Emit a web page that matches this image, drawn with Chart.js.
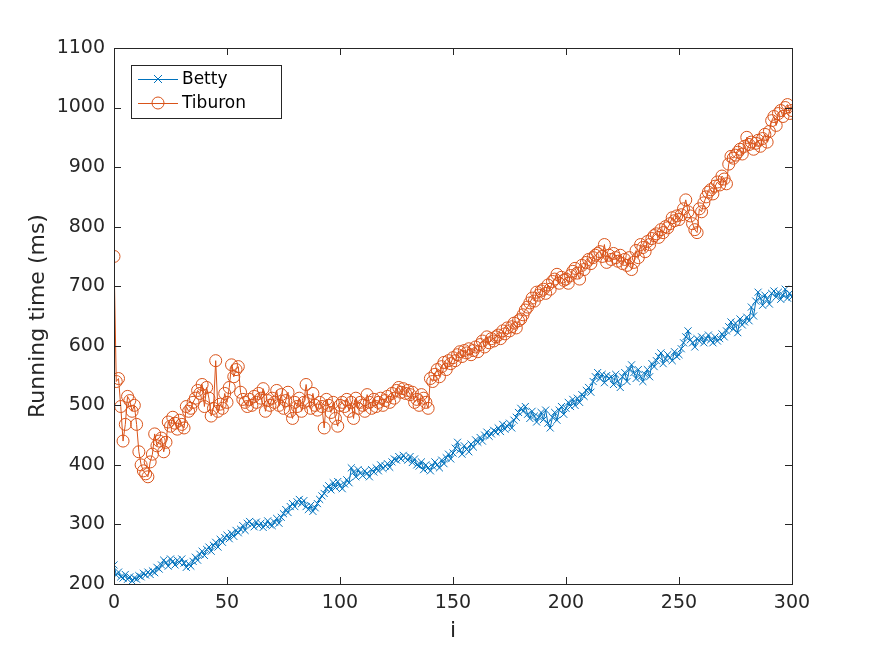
<!DOCTYPE html>
<html>
<head>
<meta charset="utf-8">
<script src="https://cdn.jsdelivr.net/npm/chart.js@4.4.1/dist/chart.umd.min.js"></script>
<style>
  html, body { margin: 0; padding: 0; background: #fff; }
  #wrap { width: 875px; height: 656px; }
</style>
</head>
<body>
<div id="wrap"><canvas id="chart" width="875" height="656"></canvas></div>
<script>
// running times per iteration i = 0..300
const bettyTimes = [
  232, 215, 220, 212, 210, 216, 208, 212, 205, 210,
  208, 214, 212, 218, 215, 220, 216, 222, 219, 228,
  225, 232, 240, 236, 230, 242, 238, 232, 240, 236,
  242, 235, 228, 234, 230, 238, 245, 240, 250, 255,
  248, 258, 262, 255, 265, 270, 262, 275, 270, 278,
  282, 276, 285, 280, 290, 286, 292, 298, 290, 302,
  305, 300, 296, 304, 298, 302, 295, 300, 306, 300,
  298, 304, 310, 302, 312, 318, 325, 320, 330, 335,
  330, 338, 342, 335, 340, 330, 325, 332, 322, 328,
  335, 342, 348, 352, 360, 365, 358, 370, 362, 372,
  365, 360, 368, 375, 370, 395, 388, 380, 392, 386,
  382, 390, 386, 380, 392, 388, 395, 390, 400, 394,
  398, 402, 396, 405, 410, 408, 414, 410, 416, 412,
  408, 414, 404, 410, 400, 398, 405, 392, 400, 395,
  390, 398, 405, 400, 395, 408, 402, 412, 418, 410,
  420, 428, 438, 425, 418, 432, 426, 422, 435, 430,
  442, 438, 446, 440, 450, 455, 448, 452, 458, 455,
  462, 456, 468, 460, 465, 470, 462, 475, 480, 488,
  495, 490, 498, 485, 478, 490, 482, 472, 480, 488,
  476, 492, 470, 462, 480, 488, 475, 492, 498, 485,
  495, 505, 498, 510, 500, 512, 505, 518, 515, 525,
  530, 522, 540, 548, 555, 545, 552, 538, 550, 545,
  548, 535, 552, 540, 530, 548, 555, 540, 560, 568,
  555, 545, 560, 548, 540, 552, 560, 548, 570, 565,
  575, 582, 588, 570, 578, 585, 580, 575, 590, 582,
  585, 595, 605, 615, 625, 610, 605, 598, 612, 608,
  615, 605, 612, 618, 610, 605, 615, 608, 612, 620,
  615, 625, 632, 640, 628, 638, 622, 645, 635, 640,
  648, 642, 665, 650, 675, 690, 680, 668, 685, 678,
  670, 688, 692, 682, 690, 678, 685, 695, 680, 688,
  682
];

const tiburonTimes = [
  750, 540, 545, 498, 440, 468, 515, 508, 490, 500,
  468, 422, 400, 390, 385, 380, 405, 418, 452, 432,
  440, 445, 422, 438, 472, 465, 480, 470, 460, 475,
  468, 462, 498, 490, 495, 505, 512, 525, 520, 535,
  498, 530, 512, 482, 495, 575, 490, 502, 495, 520,
  505, 530, 568, 548, 560, 565, 522, 510, 505, 498,
  510, 500, 515, 505, 520, 512, 528, 490, 508, 500,
  512, 505, 525, 500, 518, 495, 508, 522, 490, 478,
  505, 498, 512, 490, 505, 535, 508, 495, 520, 500,
  492, 505, 498, 462, 510, 500, 488, 505, 478, 465,
  500, 505, 498, 510, 490, 505, 478, 512, 495, 505,
  500, 490, 518, 505, 495, 510, 498, 505, 512, 500,
  508, 515, 505, 520, 512, 525, 530, 522, 528, 520,
  525, 518, 522, 505, 510, 500, 518, 512, 505, 495,
  545, 540, 552, 560, 548, 565, 572, 560, 575, 570,
  580, 575, 585, 590, 582, 592, 588, 595, 585, 592,
  598, 590, 602, 608, 598, 615, 605, 612, 608, 615,
  618, 612, 625, 620, 630, 625, 632, 638, 630, 642,
  645, 652, 660, 665, 672, 680, 675, 690, 685, 692,
  695, 688, 702, 695, 708, 712, 720, 705, 715, 710,
  712, 705, 718, 725, 730, 722, 712, 735, 728, 740,
  745, 738, 748, 752, 755, 758, 750, 770, 740, 752,
  745, 755, 748, 742, 752, 738, 745, 735, 748, 728,
  740, 760, 748, 770, 765, 758, 775, 770, 780, 785,
  788, 782, 795, 790, 800, 798, 805, 815, 810, 818,
  812, 820, 830, 845, 825, 818, 805, 795, 790, 830,
  825, 840, 850, 858, 862, 855, 868, 875, 870, 885,
  880, 872, 905, 918, 915, 920, 925, 930, 922, 935,
  950, 938, 942, 930, 940, 945, 935, 948, 955, 942,
  960, 978, 985, 970, 990, 995, 985, 1000, 1005, 990,
  995
];

const seriesNames = ['Betty', 'Tiburon'];
const seriesColors = ['#0072BD', '#D95319'];
const xTicks = [0, 50, 100, 150, 200, 250, 300];
const yTicks = [200, 300, 400, 500, 600, 700, 800, 900, 1000, 1100];

const axisColor = '#262626';
const fontFamily = "'DejaVu Sans', sans-serif";

const toPoints = arr => arr.map((v, i) => ({x: i, y: v}));

// MATLAB style box with inward ticks on all four sides, and a legend box
const matlabBox = {
    id: 'matlabBox',
    afterDraw(chart) {
        const {ctx, chartArea: a, scales} = chart;
        ctx.save();
        ctx.strokeStyle = axisColor;
        ctx.lineWidth = 1;
        ctx.strokeRect(Math.round(a.left) + 0.5, Math.round(a.top) + 0.5,
            Math.round(a.right - a.left), Math.round(a.bottom - a.top));
        const len = 7;
        ctx.beginPath();
        xTicks.forEach(t => {
            const px = Math.round(scales.x.getPixelForValue(t)) + 0.5;
            ctx.moveTo(px, a.bottom); ctx.lineTo(px, a.bottom - len);
            ctx.moveTo(px, a.top); ctx.lineTo(px, a.top + len);
        });
        yTicks.forEach(t => {
            const py = Math.round(scales.y.getPixelForValue(t)) + 0.5;
            ctx.moveTo(a.left, py); ctx.lineTo(a.left + len, py);
            ctx.moveTo(a.right, py); ctx.lineTo(a.right - len, py);
        });
        ctx.stroke();

        // legend
        const lx = 131, ly = 65, lw = 150, lh = 53;
        ctx.fillStyle = '#fff';
        ctx.fillRect(lx, ly, lw, lh);
        ctx.strokeStyle = axisColor;
        ctx.strokeRect(lx + 0.5, ly + 0.5, lw, lh);
        ctx.font = '17px ' + fontFamily;
        ctx.textBaseline = 'middle';
        chart.data.datasets.forEach((ds, k) => {
            const cy = ly + 14 + k * 24;
            ctx.strokeStyle = ds.borderColor;
            ctx.lineWidth = 1;
            ctx.beginPath();
            ctx.moveTo(lx + 7, cy + 0.5); ctx.lineTo(lx + 47, cy + 0.5);
            ctx.stroke();
            ctx.beginPath();
            if (ds.pointStyle === 'crossRot') {
                ctx.moveTo(lx + 23, cy - 4); ctx.lineTo(lx + 31, cy + 4);
                ctx.moveTo(lx + 31, cy - 4); ctx.lineTo(lx + 23, cy + 4);
            } else {
                ctx.arc(lx + 27, cy, ds.pointRadius, 0, Math.PI * 2);
            }
            ctx.stroke();
            ctx.fillStyle = '#000';
            ctx.fillText(ds.label, lx + 51, cy + 1);
        });
        ctx.restore();
    }
};

new Chart(document.getElementById('chart'), {
    type: 'line',
    data: {
        datasets: [
            {
                label: seriesNames[0],
                data: toPoints(bettyTimes),
                borderColor: seriesColors[0],
                backgroundColor: 'transparent',
                borderWidth: 1,
                pointStyle: 'crossRot',
                pointRadius: 5,
                pointBorderWidth: 1,
                pointBorderColor: seriesColors[0],
                tension: 0,
                order: 2
            },
            {
                label: seriesNames[1],
                data: toPoints(tiburonTimes),
                borderColor: seriesColors[1],
                backgroundColor: 'transparent',
                borderWidth: 1,
                pointStyle: 'circle',
                pointRadius: 6,
                pointBorderWidth: 1,
                pointBorderColor: seriesColors[1],
                pointBackgroundColor: 'transparent',
                tension: 0,
                order: 1
            }
        ]
    },
    options: {
        responsive: false,
        animation: false,
        events: [],
        layout: {padding: {left: 21, right: 83, top: 48, bottom: 12}},
        plugins: {
            legend: {display: false},
            tooltip: {enabled: false}
        },
        scales: {
            x: {
                type: 'linear',
                min: 0,
                max: 300,
                afterBuildTicks: s => { s.ticks = xTicks.map(v => ({value: v})); },
                afterFit: s => { s.height = 60; },
                grid: {display: false, drawTicks: false},
                border: {display: false},
                ticks: {color: axisColor, font: {family: fontFamily, size: 19}, padding: 8, maxRotation: 0,
                    callback: v => String(v)},
                title: {display: true, text: 'i', color: axisColor, font: {family: fontFamily, size: 22}, padding: {top: 0, bottom: 0}}
            },
            y: {
                min: 200,
                max: 1100,
                afterBuildTicks: s => { s.ticks = yTicks.map(v => ({value: v})); },
                afterFit: s => { s.width = 93; },
                grid: {display: false, drawTicks: false},
                border: {display: false},
                ticks: {color: axisColor, font: {family: fontFamily, size: 19}, padding: 9,
                    callback: v => String(v)},
                title: {display: true, text: 'Running time (ms)', color: axisColor, font: {family: fontFamily, size: 22}, padding: {bottom: 4}}
            }
        }
    },
    plugins: [matlabBox]
});
</script>
</body>
</html>
